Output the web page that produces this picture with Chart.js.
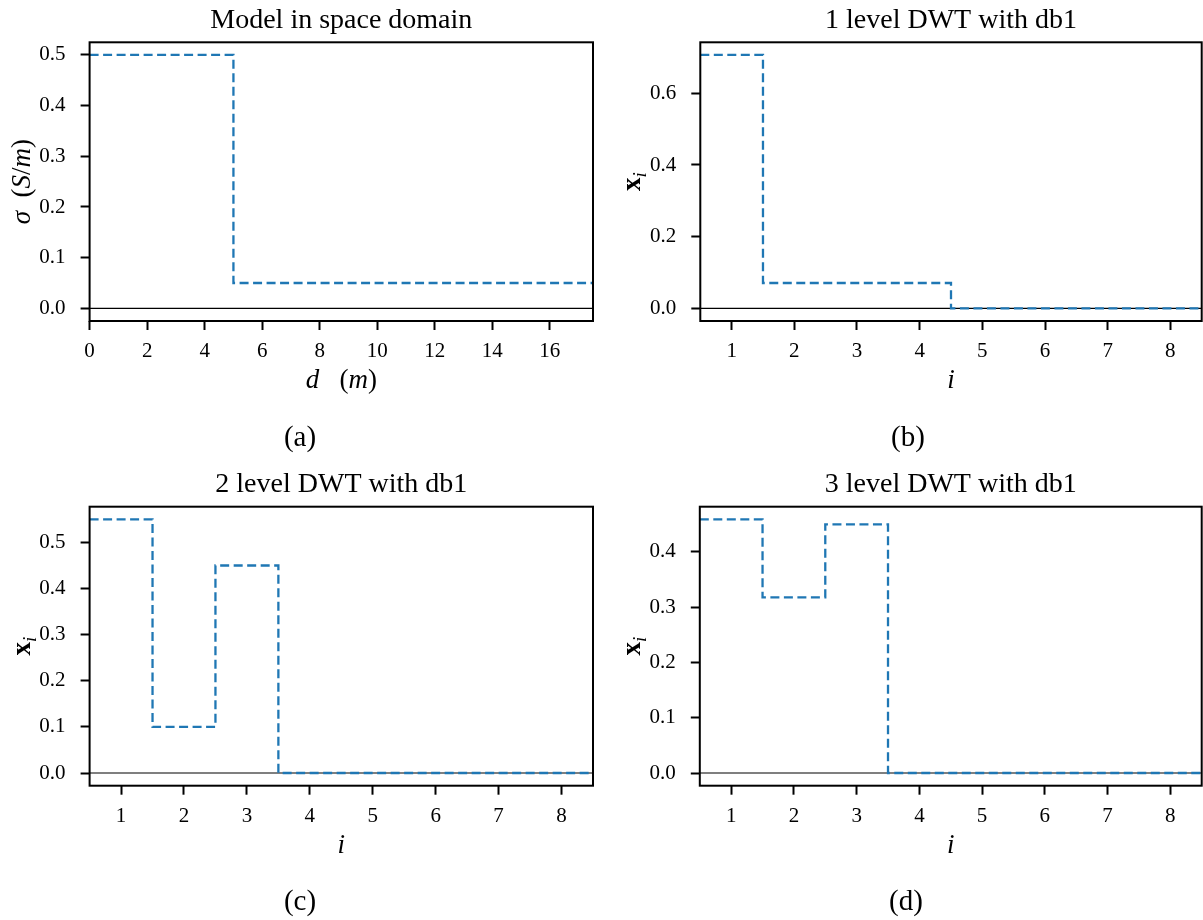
<!DOCTYPE html>
<html lang="en">
<head>
<meta charset="UTF-8">
<title>Model and DWT coefficients</title>
<script src="https://cdn.jsdelivr.net/npm/chart.js@4"></script>
<style>
  body { margin: 0; background: #fff; }
  #fig { position: relative; width: 1203px; height: 920px; overflow: hidden; }
  canvas { position: absolute; }
</style>
</head>
<body>
<div id="fig">
  <canvas id="panelA" width="600" height="460" style="left:0;top:0"></canvas>
  <canvas id="panelB" width="603" height="460" style="left:600px;top:0"></canvas>
  <canvas id="panelC" width="600" height="460" style="left:0;top:460px"></canvas>
  <canvas id="panelD" width="603" height="460" style="left:600px;top:460px"></canvas>
</div>
<script>
// conductivity model: layer boundaries (m) and sigma (S/m)
const modelDepth = [0, 5, 17.5];
const modelSigma = [0.5, 0.05, 0.05];

// wavelet coefficients x_i, i = 1..8
const coefIndex = [1, 2, 3, 4, 5, 6, 7, 8];
const dwtLevel1 = [0.707, 0.0707, 0.0707, 0.0707, 0, 0, 0, 0];
const dwtLevel2 = [0.55, 0.10, 0.45, 0, 0, 0, 0, 0];
const dwtLevel3 = [0.459, 0.318, 0.45, 0, 0, 0, 0, 0];

// tick labels
const depthTicks = [0, 2, 4, 6, 8, 10, 12, 14, 16];
const sigmaTicks = [0.0, 0.1, 0.2, 0.3, 0.4, 0.5];
const indexTicks = [1, 2, 3, 4, 5, 6, 7, 8];
const level1Ticks = [0.0, 0.2, 0.4, 0.6];
const level2Ticks = [0.0, 0.1, 0.2, 0.3, 0.4, 0.5];
const level3Ticks = [0.0, 0.1, 0.2, 0.3, 0.4];

const SERIF = '"Liberation Serif", "Times New Roman", serif';
const BLUE = '#1f77b4';

// matplotlib-like autoscale: include zero, 5% margin
function padRange(vals) {
  const lo = Math.min(0, ...vals), hi = Math.max(...vals);
  const m = 0.05 * (hi - lo);
  return [lo - m, hi + m];
}

// step points centred on each index, stretched to the axis limits
function coefPoints(vals, xMin, xMax) {
  const pts = coefIndex.map((i, k) => ({ x: i, y: vals[k] }));
  pts.unshift({ x: xMin, y: vals[0] });
  pts.push({ x: xMax, y: vals[vals.length - 1] });
  return pts;
}

const xLabelDepth = [{ t: 'd', s: 'italic' }, { t: '   (', s: '' }, { t: 'm', s: 'italic' }, { t: ')', s: '' }];
const yLabelSigma = [{ t: 'σ', s: 'italic' }, { t: '  (', s: '' }, { t: 'S', s: 'italic' }, { t: '/', s: '' }, { t: 'm', s: 'italic' }, { t: ')', s: '' }];
const xLabelIndex = [{ t: 'i', s: 'italic' }];
const yLabelCoef = [{ t: 'x', s: 'bold' }, { t: 'i', s: 'italic', sub: true }];

// draw a label made of differently styled pieces, centred on (cx, cy)
function drawRuns(ctx, runs, size, cx, cy, angle) {
  ctx.save();
  ctx.translate(cx, cy);
  ctx.rotate(angle || 0);
  ctx.textAlign = 'left';
  ctx.textBaseline = 'alphabetic';
  ctx.fillStyle = '#000';
  const fonts = runs.map(r => `${r.s} ${r.sub ? Math.round(size * 0.7) : size}px ${SERIF}`);
  const widths = runs.map((r, k) => { ctx.font = fonts[k]; return ctx.measureText(r.t).width; });
  let x = -widths.reduce((a, b) => a + b, 0) / 2;
  const base = size * 0.3;
  runs.forEach((r, k) => {
    ctx.font = fonts[k];
    ctx.fillText(r.t, x, base + (r.sub ? size * 0.22 : 0));
    x += widths[k];
  });
  ctx.restore();
}

const panelText = {
  id: 'panelText',
  afterDatasetsDraw(chart) {
    const { ctx, chartArea: c } = chart;
    ctx.save();
    ctx.strokeStyle = '#000';
    ctx.lineWidth = 2;
    ctx.strokeRect(c.left, c.top, c.right - c.left, c.bottom - c.top);
    ctx.restore();
  },
  afterDraw(chart) {
    const p = chart.options.plugins.panelText;
    const { ctx, chartArea: c } = chart;
    const mid = (c.left + c.right) / 2;
    drawRuns(ctx, [{ t: p.title, s: '' }], 28, mid, c.top - 23);
    drawRuns(ctx, p.xLabel, 27, mid, c.bottom + 59);
    drawRuns(ctx, p.yLabel, 27, c.left - 68, (c.top + c.bottom) / 2, -Math.PI / 2);
    drawRuns(ctx, [{ t: p.caption, s: '' }], 29, p.captionX, c.bottom + 116);
  }
};

function axisOptions(min, max, ticks, digits, fit) {
  return {
    type: 'linear',
    min: min,
    max: max,
    afterFit: fit,
    afterBuildTicks: s => { s.ticks = ticks.map(v => ({ value: v })); },
    border: { display: false },
    grid: { display: true, drawOnChartArea: false, drawTicks: true, tickLength: 9, tickWidth: 2, tickColor: '#000' },
    ticks: {
      autoSkip: false,
      maxRotation: 0,
      padding: 9,
      color: '#000',
      font: { family: SERIF, size: 21, lineHeight: 1.2 },
      callback: v => v.toFixed(digits)
    }
  };
}

function makePanel(p) {
  const canvas = document.getElementById(p.id);
  const W = canvas.width, H = canvas.height;
  const a = p.area;
  const [yMin, yMax] = padRange(p.yValues);
  const xOpt = axisOptions(p.xMin, p.xMax, p.xTicks, 0, s => { s.height = H - a.bottom; });
  const yOpt = axisOptions(yMin, yMax, p.yTicks, 1, s => { s.width = a.left; });
  yOpt.ticks.padding = 15;
  return new Chart(canvas, {
    type: 'line',
    data: {
      datasets: [
        { data: p.points, stepped: p.stepped, borderColor: BLUE, borderWidth: 2.3, borderDash: [9, 4.5],
          pointRadius: 0, fill: false, order: 1 },
        { data: [{ x: p.xMin, y: 0 }, { x: p.xMax, y: 0 }], borderColor: '#000', borderWidth: 1.1,
          pointRadius: 0, fill: false, order: 2 }
      ]
    },
    options: {
      responsive: false,
      animation: false,
      events: [],
      layout: { padding: { left: 0, top: a.top, right: W - a.right, bottom: 0 } },
      scales: { x: xOpt, y: yOpt },
      plugins: {
        legend: { display: false },
        tooltip: { enabled: false },
        title: { display: false },
        panelText: { title: p.title, caption: p.caption, captionX: p.captionX, xLabel: p.xLabel, yLabel: p.yLabel }
      }
    },
    plugins: [panelText]
  });
}

const idxMin = 0.5, idxMax = 8.5;

makePanel({
  id: 'panelA', title: 'Model in space domain', caption: '(a)', captionX: 300,
  area: { left: 89.6, top: 42.3, right: 593, bottom: 321 },
  points: modelDepth.map((d, k) => ({ x: d, y: modelSigma[k] })), stepped: 'before',
  yValues: modelSigma, xMin: modelDepth[0], xMax: modelDepth[modelDepth.length - 1],
  xTicks: depthTicks, yTicks: sigmaTicks, xLabel: xLabelDepth, yLabel: yLabelSigma
});

makePanel({
  id: 'panelB', title: '1 level DWT with db1', caption: '(b)', captionX: 308,
  area: { left: 100.3, top: 42.3, right: 601.7, bottom: 321 },
  points: coefPoints(dwtLevel1, idxMin, idxMax), stepped: 'middle',
  yValues: dwtLevel1, xMin: idxMin, xMax: idxMax,
  xTicks: indexTicks, yTicks: level1Ticks, xLabel: xLabelIndex, yLabel: yLabelCoef
});

makePanel({
  id: 'panelC', title: '2 level DWT with db1', caption: '(c)', captionX: 300,
  area: { left: 89.6, top: 46.7, right: 593, bottom: 325.7 },
  points: coefPoints(dwtLevel2, idxMin, idxMax), stepped: 'middle',
  yValues: dwtLevel2, xMin: idxMin, xMax: idxMax,
  xTicks: indexTicks, yTicks: level2Ticks, xLabel: xLabelIndex, yLabel: yLabelCoef
});

makePanel({
  id: 'panelD', title: '3 level DWT with db1', caption: '(d)', captionX: 306,
  area: { left: 99.8, top: 46.7, right: 601.7, bottom: 325.7 },
  points: coefPoints(dwtLevel3, idxMin, idxMax), stepped: 'middle',
  yValues: dwtLevel3, xMin: idxMin, xMax: idxMax,
  xTicks: indexTicks, yTicks: level3Ticks, xLabel: xLabelIndex, yLabel: yLabelCoef
});
</script>
</body>
</html>
